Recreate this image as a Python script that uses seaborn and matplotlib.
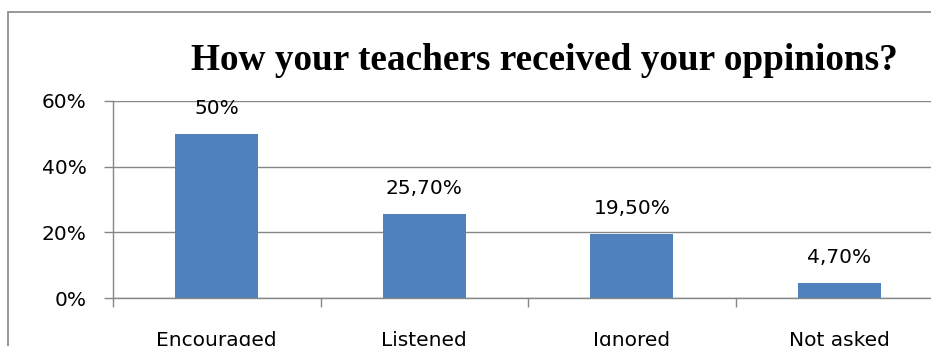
import matplotlib
matplotlib.use("Agg")
import matplotlib.pyplot as plt
from matplotlib.patches import Rectangle
from matplotlib.ticker import FixedLocator, PercentFormatter
import seaborn as sns

categories = ["Encouraged", "Listened", "Ignored", "Not asked"]
shares = [0.50, 0.257, 0.195, 0.047]
y_ticks = [0.0, 0.2, 0.4, 0.6]
title = "How your teachers received your oppinions?"

BAR = "#4F81BD"
GRID = "#868686"
LABEL_SIZE = 14.5

sns.set_theme(style="white")
plt.rcParams["font.family"] = ["DejaVu Sans"]
plt.rcParams["text.color"] = "black"

fig = plt.figure(figsize=(9.31, 3.46), dpi=100)
ax = fig.add_axes([113 / 931, 1 - 298 / 346, 830 / 931, (298 - 101) / 346])

sns.barplot(x=categories, y=shares, color=BAR, width=0.4, saturation=1,
            linewidth=0, ax=ax)

ax.set_xlim(-0.5, len(categories) - 0.5)
ax.set_ylim(0, 0.6)
ax.set_yticks(y_ticks)
ax.yaxis.set_major_formatter(PercentFormatter(1.0, decimals=0))
ax.grid(axis="y", color=GRID, linewidth=1.0)
ax.set_axisbelow(True)

for side in ("top", "right"):
    ax.spines[side].set_visible(False)
for side in ("left", "bottom"):
    ax.spines[side].set_color(GRID)
    ax.spines[side].set_linewidth(1.0)

ax.tick_params(axis="y", length=6.5, width=1, color=GRID, pad=12.5, labelsize=LABEL_SIZE,
               labelcolor="black", left=True)
# category boundaries carry the tick marks; names sit centred under each bar
ax.xaxis.set_minor_locator(FixedLocator([i - 0.5 for i in range(len(categories) + 1)]))
ax.tick_params(axis="x", which="minor", length=6.5, width=1, color=GRID, bottom=True)
ax.tick_params(axis="x", which="major", length=0, pad=23.5, labelsize=LABEL_SIZE,
               labelcolor="black")

for i, v in enumerate(shares):
    pct = v * 100
    text = f"{pct:.0f}%" if abs(pct - round(pct)) < 1e-9 else f"{pct:.2f}%".replace(".", ",")
    ax.annotate(text, (i, v), xytext=(0, 11.5), textcoords="offset points",
                ha="center", va="bottom", fontsize=LABEL_SIZE, color="black")

fig.text(544.5 / 931, 1 - 70 / 346, title, ha="center", va="baseline", color="black",
         fontsize=26.8, fontweight="bold", family=["Liberation Serif", "DejaVu Serif"])

fig.patches.append(Rectangle((8 / 931, -0.2), 1.2, 1 - 12 / 346 + 0.2,
                             transform=fig.transFigure, fill=False,
                             edgecolor=GRID, linewidth=1.2))

fig.savefig("out.png", dpi=100)
